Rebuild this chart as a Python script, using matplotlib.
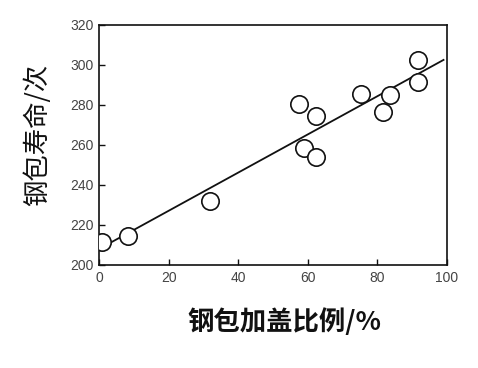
import matplotlib
matplotlib.use("Agg")
import matplotlib.pyplot as plt
import numpy as np

x_ratio = [1, 8.3, 31.9, 57.6, 58.8, 62.4, 62.4, 75.3, 81.6, 83.7, 91.6, 91.6]
life = [211.3, 214.5, 232, 280.3, 258.3, 274.5, 253.8, 285.3, 276.7, 285, 302.5, 291.5]
fit_x = [0, 99]
fit_intercept = 208
fit_slope = 0.955
xticks = [0, 20, 40, 60, 80, 100]
yticks = [200, 220, 240, 260, 280, 300, 320]

cjk = ['Noto Sans CJK SC', 'DejaVu Sans']
num_font = ['Liberation Sans Narrow', 'Liberation Sans', 'DejaVu Sans']

fig = plt.figure(figsize=(4.78, 3.68), dpi=100)
ax = fig.add_axes([99/478, 1-265/368, (447-99)/478, (265-25)/368])

fx = np.array(fit_x, dtype=float)
ax.plot(fx, fit_intercept + fit_slope*fx, color='#111111', lw=1.3, zorder=2)
ax.plot(x_ratio, life, linestyle='none', marker='o', markersize=12.5,
        markerfacecolor='white', markeredgecolor='#111111', markeredgewidth=1.2, zorder=3)

ax.set_xlim(0, 100)
ax.set_ylim(200, 320)
ax.set_xticks(xticks)
ax.set_yticks(yticks)
ax.tick_params(direction='in', length=4, width=1, colors='#111111', labelcolor='#444444', pad=4)
for lab in ax.get_xticklabels() + ax.get_yticklabels():
    lab.set_fontfamily(num_font)
    lab.set_fontsize(10)
for s in ax.spines.values():
    s.set_linewidth(1.2)
    s.set_color('#111111')

fig.text(284/478, 1-322/368, '钢包加盖比例/%', family=cjk, fontsize=19, fontweight='bold',
         ha='center', va='center', color='#111111')
fig.text(37/478, 1-135/368, '钢包寿命/次', family=cjk, fontsize=19, fontweight='medium',
         ha='center', va='center', rotation=90, color='#111111')

fig.savefig('out.png', dpi=100)
